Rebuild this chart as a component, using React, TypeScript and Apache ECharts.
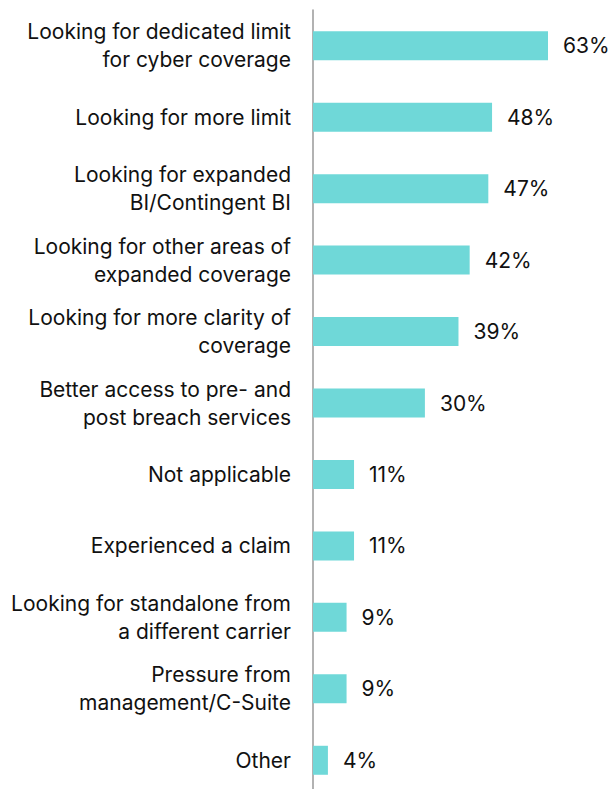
import React, { useEffect, useRef } from "react";
import * as echarts from "echarts";

const categories = [
  "Looking for dedicated limit\nfor cyber coverage",
  "Looking for more limit",
  "Looking for expanded\nBI/Contingent BI",
  "Looking for other areas of\nexpanded coverage",
  "Looking for more clarity of\ncoverage",
  "Better access to pre- and\npost breach services",
  "Not applicable",
  "Experienced a claim",
  "Looking for standalone from\na different carrier",
  "Pressure from\nmanagement/C-Suite",
  "Other",
];
const values = [63, 48, 47, 42, 39, 30, 11, 11, 9, 9, 4];

export default function App() {
  const ref = useRef<HTMLDivElement>(null);
  useEffect(() => {
    const chart = echarts.init(ref.current!, null, { renderer: "svg" });
    chart.setOption({
      animation: false,
      grid: {
        left: 313,
        top: 10,
        width: (235 * 100) / 63,
        height: 786,
        outerBoundsMode: "none",
        containLabel: false,
      },
      xAxis: {
        type: "value",
        min: 0,
        max: 100,
        show: false,
      },
      yAxis: {
        type: "category",
        data: categories,
        inverse: true,
        axisLine: { show: true, lineStyle: { color: "#999999", width: 1.5 } },
        axisTick: { show: false },
        axisLabel: {
          color: "#111111",
          fontFamily: "Inter",
          fontSize: 21,
          lineHeight: 28,
          margin: 22,
          align: "right",
        },
      },
      series: [
        {
          type: "bar",
          data: values,
          barWidth: 29,
          itemStyle: { color: "#6fd8d8" },
          label: {
            show: true,
            position: "right",
            distance: 15,
            formatter: "{c}%",
            color: "#111111",
            fontFamily: "Inter",
            fontSize: 21,
          },
        },
      ],
    });
    return () => chart.dispose();
  }, []);
  return (
    <div
      ref={ref}
      style={{ position: "absolute", left: 0, top: 0, width: 611, height: 789 }}
    />
  );
}
